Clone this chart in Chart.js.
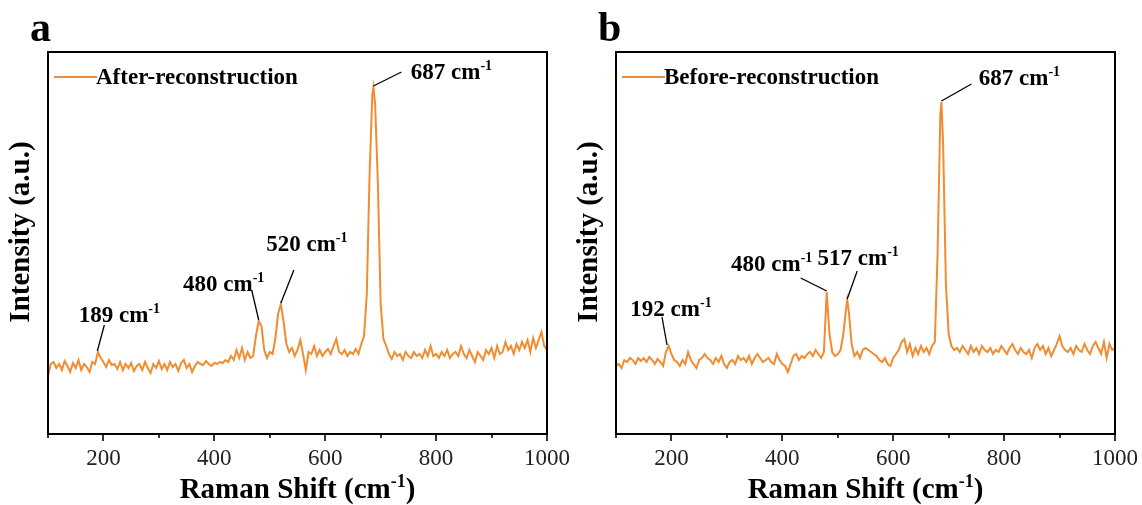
<!DOCTYPE html>
<html>
<head>
<meta charset="utf-8">
<script src="https://cdn.jsdelivr.net/npm/chart.js@4.4.1/dist/chart.umd.min.js"></script>
<style>
  html, body { margin: 0; padding: 0; background: #fff; }
  #wrap { position: relative; width: 1142px; height: 505px; }
  canvas { position: absolute; top: 0; }
</style>
</head>
<body>
<div id="wrap">
  <canvas id="chartA" width="571" height="505" style="left:0"></canvas>
  <canvas id="chartB" width="571" height="505" style="left:571px"></canvas>
</div>
<script>
// ---------------- DATA ----------------
const ramanShiftA = [100,105,110,115,120,125,130,135,140,145,150,155,160,165,170,175,180,185,190,195,200,205,210,215,220,225,230,235,240,245,250,255,260,265,270,275,280,285,290,295,300,305,310,315,320,325,330,335,340,345,350,355,360,365,370,375,380,385,390,395,400,405,410,415,420,425,430,435,440,445,450,455,460,465,470,475,480,485,490,495,500,505,510,515,520,525,530,535,540,545,550,555,560,565,570,575,580,585,590,595,600,605,610,615,620,625,630,635,640,645,650,655,660,665,670,675,680,685,687,690,695,700,705,710,715,720,725,730,735,740,745,750,755,760,765,770,775,780,785,790,795,800,805,810,815,820,825,830,835,840,845,850,855,860,865,870,875,880,885,890,895,900,905,910,915,920,925,930,935,940,945,950,955,960,965,970,975,980,985,990,995,1000];
const intensityA = [58,70,72,66,70,64,73,68,62,71,66,74,64,70,67,62,72,70,82,76,72,67,74,69,70,65,72,64,70,66,71,63,68,70,64,72,66,61,70,66,73,65,70,64,72,67,70,63,71,74,66,70,62,68,72,70,69,73,70,68,71,70,72,71,74,72,78,74,84,76,86,74,82,76,78,98,113,108,84,76,82,80,95,120,130,112,90,82,86,78,84,94,80,64,82,80,88,78,84,78,82,85,80,88,95,82,80,84,78,82,80,85,80,90,98,140,260,340,347,330,250,130,95,88,80,75,82,78,80,74,82,78,76,82,78,80,76,84,78,88,78,80,76,82,78,84,76,80,82,78,88,80,76,84,78,72,82,78,74,84,80,86,76,88,80,82,92,84,88,80,90,84,92,86,94,82,96,86,94,102,88,84];

const ramanShiftB = [100,105,110,115,120,125,130,135,140,145,150,155,160,165,170,175,180,185,190,195,200,205,210,215,220,225,230,235,240,245,250,255,260,265,270,275,280,285,290,295,300,305,310,315,320,325,330,335,340,345,350,355,360,365,370,375,380,385,390,395,400,405,410,415,420,425,430,435,440,445,450,455,460,465,470,475,480,485,490,495,500,505,510,515,517,520,525,530,535,540,545,550,555,560,565,570,575,580,585,590,595,600,605,610,615,620,625,630,635,640,645,650,655,660,665,670,675,680,685,687,690,695,700,705,710,715,720,725,730,735,740,745,750,755,760,765,770,775,780,785,790,795,800,805,810,815,820,825,830,835,840,845,850,855,860,865,870,875,880,885,890,895,900,905,910,915,920,925,930,935,940,945,950,955,960,965,970,975,980,985,990,995,1000];
const intensityB = [68,70,66,74,72,76,74,70,76,73,76,72,77,74,70,75,72,68,82,88,80,74,72,68,74,70,82,74,70,66,74,76,80,76,74,70,76,72,78,70,66,72,74,70,78,74,76,72,78,70,76,80,76,72,74,76,72,70,80,74,70,68,62,70,78,80,74,78,76,80,82,78,84,80,76,82,142,100,82,78,80,84,100,126,134,122,90,78,82,76,84,86,84,82,80,78,74,72,76,70,68,76,80,84,92,95,82,90,78,86,80,88,82,86,80,88,92,180,320,332,290,150,100,88,84,86,82,88,84,80,88,82,86,80,88,84,82,86,80,84,82,88,84,80,86,90,84,80,86,82,80,84,76,86,90,84,88,80,86,78,84,90,98,88,84,82,86,80,88,84,82,90,84,80,88,92,86,80,92,76,90,84,86];

const labelA = 'After-reconstruction';
const labelB = 'Before-reconstruction';
const peaksA = [189, 480, 520, 687];
const peaksB = [192, 480, 517, 687];
const xMin = 100, xMax = 1000;

// ---------------- STYLE / LAYOUT ----------------
const ORANGE = '#F28C30';
const SERIF = '"Liberation Serif", "Times New Roman", serif';
Chart.defaults.font.family = SERIF;

// label placement relative to the peak pixel: [leaderDx, leaderDy, textCx, textCy]
const annoA = [[7,-26,22,-37],[-7,-30,-35,-37],[13,-33,26,-60],[28,-14,78,-15]];
const annoB = [[-5,-28,4,-37],[-26,-13,-55,-28],[10,-28,11,-42],[30,-17,78,-24]];

function drawSup(ctx, main, sup, tail, cx, cy, size) {
  ctx.save();
  ctx.fillStyle = '#000';
  ctx.textBaseline = 'alphabetic';
  ctx.textAlign = 'left';
  const supSize = Math.round(size * 0.62);
  ctx.font = 'bold ' + size + 'px ' + SERIF;
  const w1 = ctx.measureText(main).width;
  const w3 = ctx.measureText(tail).width;
  ctx.font = 'bold ' + supSize + 'px ' + SERIF;
  const w2 = ctx.measureText(sup).width;
  const x0 = cx - (w1 + w2 + w3) / 2;
  const base = cy + size * 0.33;
  ctx.font = 'bold ' + size + 'px ' + SERIF;
  ctx.fillText(main, x0, base);
  if (tail) ctx.fillText(tail, x0 + w1 + w2, base);
  ctx.font = 'bold ' + supSize + 'px ' + SERIF;
  ctx.fillText(sup, x0 + w1, base - size * 0.38);
  ctx.restore();
}

function makePlugin(letter, peaks, anno, xs, ys) {
  return {
    id: 'deco' + letter,
    afterDraw(chart) {
      const ctx = chart.ctx;
      const a = chart.chartArea;
      const xs_ = chart.scales.x, ys_ = chart.scales.y;
      ctx.save();
      // frame
      ctx.strokeStyle = '#000';
      ctx.lineWidth = 2;
      ctx.strokeRect(a.left, a.top, a.right - a.left, a.bottom - a.top);
      // tick marks (major 200, minor 100)
      ctx.lineWidth = 1.6;
      for (let v = xMin; v <= xMax; v += 100) {
        const px = Math.round(xs_.getPixelForValue(v));
        const len = (v % 200 === 0) ? 7 : 4;
        ctx.beginPath();
        ctx.moveTo(px, a.bottom);
        ctx.lineTo(px, a.bottom + len);
        ctx.stroke();
      }
      // legend
      const ds = chart.data.datasets[0];
      ctx.strokeStyle = ds.borderColor;
      ctx.lineWidth = 2;
      ctx.beginPath();
      ctx.moveTo(a.left + 6, 77);
      ctx.lineTo(a.left + 49, 77);
      ctx.stroke();
      ctx.fillStyle = '#000';
      ctx.font = 'bold 23px ' + SERIF;
      ctx.textBaseline = 'middle';
      ctx.textAlign = 'left';
      ctx.fillText(ds.label, a.left + 48, 78);
      ctx.restore();
      // peak annotations
      peaks.forEach((p, i) => {
        let best = -Infinity;
        xs.forEach((x, j) => { if (Math.abs(x - p) <= 6 && ys[j] > best) { best = ys[j]; } });
        const px = xs_.getPixelForValue(p);
        const py = ys_.getPixelForValue(best) - 1;
        const o = anno[i];
        ctx.save();
        ctx.strokeStyle = '#000';
        ctx.lineWidth = 1.3;
        ctx.beginPath();
        ctx.moveTo(px, py);
        ctx.lineTo(px + o[0], py + o[1]);
        ctx.stroke();
        ctx.restore();
        drawSup(ctx, p + ' cm', '-1', '', px + o[2], py + o[3], 23);
      });
      // axis titles
      drawSup(ctx, 'Raman Shift (cm', '-1', ')', (a.left + a.right) / 2, 488, 29);
      ctx.save();
      ctx.translate(a.left - 26, (a.top + a.bottom) / 2 - 11);
      ctx.rotate(-Math.PI / 2);
      ctx.font = 'bold 29px ' + SERIF;
      ctx.fillStyle = '#000';
      ctx.textAlign = 'center';
      ctx.textBaseline = 'middle';
      ctx.fillText('Intensity (a.u.)', 0, 0);
      ctx.restore();
      // panel letter
      ctx.save();
      ctx.font = 'bold 42px ' + SERIF;
      ctx.fillStyle = '#000';
      ctx.textAlign = 'left';
      ctx.textBaseline = 'alphabetic';
      ctx.fillText(letter, a.left - 18, 41);
      ctx.restore();
    }
  };
}

function build(id, xs, ys, label, peaks, anno, letter, padL, padR) {
  const pts = xs.map((x, i) => ({ x: x, y: ys[i] }));
  return new Chart(document.getElementById(id), {
    type: 'line',
    data: { datasets: [{ label: label, data: pts, borderColor: ORANGE, borderWidth: 2, pointRadius: 0, tension: 0, fill: false }] },
    options: {
      responsive: false, animation: false, devicePixelRatio: 1,
      layout: { padding: { left: padL, right: padR, top: 52, bottom: 0 } },
      plugins: { legend: { display: false }, tooltip: { enabled: false } },
      scales: {
        x: {
          type: 'linear', min: xMin, max: xMax,
          afterFit: s => { s.height = 71; s.paddingLeft = 0; s.paddingRight = 0; },
          grid: { display: false, drawTicks: false },
          border: { display: false },
          ticks: { stepSize: 100, padding: 11, color: '#222', font: { size: 23, family: SERIF },
                   callback: v => (v % 200 === 0 ? String(v) : '') }
        },
        y: { min: 0, max: 382, display: false }
      }
    },
    plugins: [makePlugin(letter, peaks, anno, xs, ys)]
  });
}

build('chartA', ramanShiftA, intensityA, labelA, peaksA, annoA, 'a', 48, 24);
build('chartB', ramanShiftB, intensityB, labelB, peaksB, annoB, 'b', 45, 27);
</script>
</body>
</html>
